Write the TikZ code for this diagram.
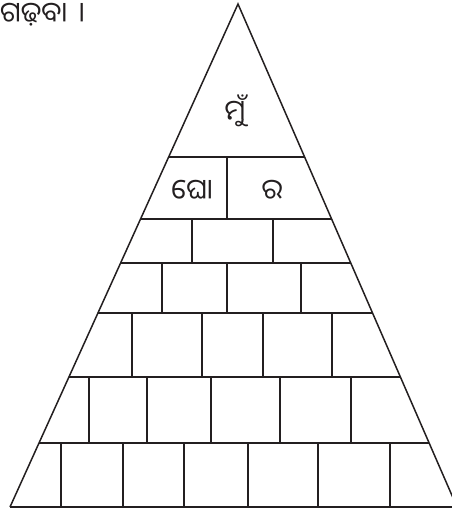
\documentclass[tikz,border=0pt]{standalone}
\usepackage{fontspec}
\newfontfamily\oriya[Script=Oriya]{Noto Sans Oriya UI}
\usetikzlibrary{calc}
\definecolor{ink}{HTML}{231F20}

\begin{document}
\begin{tikzpicture}[x=1pt,y=-1pt,
    side/.style={draw=ink,line width=1.5pt},
    rung/.style={draw=ink,line width=2.4pt},
    word/.style={font=\oriya\fontsize{28}{32}\selectfont,text=ink,inner sep=0pt}]
  \useasboundingbox (0,0) rectangle (452,511);
  \coordinate (apex) at (238,4);
  \coordinate (bl) at (10,507);
  \coordinate (br) at (457,507);
  \draw[side] (bl) -- (apex) -- (br);
  \draw[rung] (bl) -- (br);
  \foreach \y in {157,219,263,313,377,443}
    {
      \pgfmathsetmacro{\t}{(\y-4)/503}
      \draw[rung] ($(apex)!\t!(bl)$) -- ($(apex)!\t!(br)$);
    }
  \foreach \a/\b/\xs in {157/219/{227},219/263/{192,273},263/313/{162,227,301},313/377/{132,202,263,332},377/443/{89,147,211,280,351},443/507/{61,123,184,248,318,390}}
    \foreach \x in \xs
      \draw[rung] (\x,\a) -- (\x,\b);
  \node[word,anchor=west] (title) at (0,15) {ଗଢ଼ବା\hspace{4pt} ।};
  \node[word] (mu) at (235,111) {ମୁଁ};
  \node[word] (gho) at (192,191) {ଘୋ};
  \node[word] (ra) at (272,191) {ର};
\end{tikzpicture}
\end{document}
